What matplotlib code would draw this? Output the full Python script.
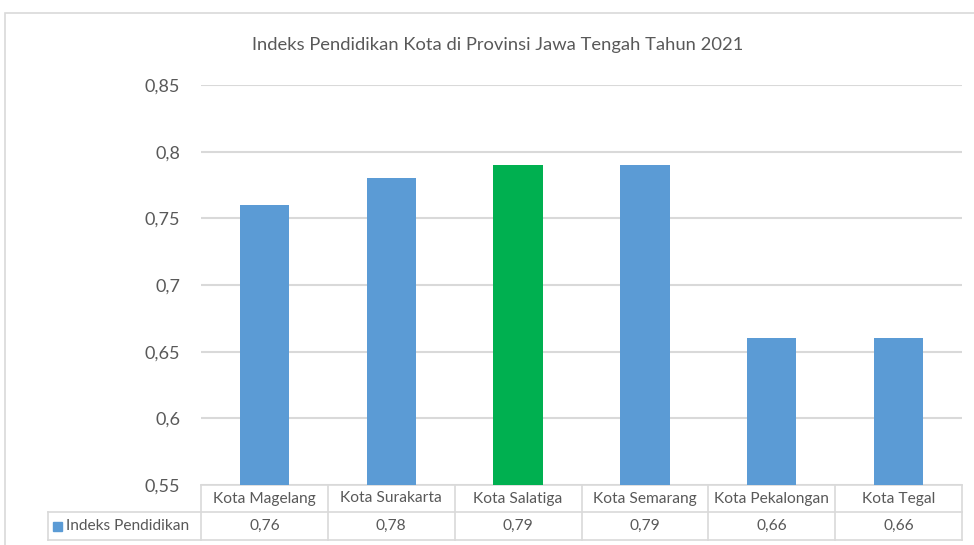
import matplotlib.pyplot as plt
import matplotlib.transforms as mtransforms
from matplotlib.patches import Rectangle

plt.rcParams['font.family'] = ['Lato', 'DejaVu Sans']

cities = ['Kota Magelang', 'Kota Surakarta', 'Kota Salatiga',
          'Kota Semarang', 'Kota Pekalongan', 'Kota Tegal']
values = [0.76, 0.78, 0.79, 0.79, 0.66, 0.66]
bar_colors = ['#5B9BD5', '#5B9BD5', '#00B050', '#5B9BD5', '#5B9BD5', '#5B9BD5']
series_name = 'Indeks Pendidikan'
title = 'Indeks Pendidikan Kota di Provinsi Jawa Tengah Tahun 2021'
yticks = [0.55, 0.6, 0.65, 0.7, 0.75, 0.8, 0.85]

W, H = 974, 545
text_col = '#595959'
line_col = '#d9d9d9'

fig = plt.figure(figsize=(W / 100, H / 100), dpi=100)
fig.patch.set_facecolor('white')

# outer chart border
fig.patches.append(Rectangle((5 / W, -0.1), 1.1, 1 - 13 / H + 0.1,
                             transform=fig.transFigure, fill=False,
                             edgecolor='#d9d9d9', lw=1.2))

left, right, top, bottom = 201, 962, 85, 485
ax = fig.add_axes([left / W, 1 - bottom / H, (right - left) / W, (bottom - top) / H])

x = range(len(cities))
ax.bar(x, [v - 0.55 for v in values], bottom=0.55, width=0.39, color=bar_colors, zorder=3)
ax.set_xlim(-0.5, len(cities) - 0.5)
ax.set_ylim(0.55, 0.85)
ax.set_yticks(yticks)
ax.set_yticklabels([f'{t:g}'.replace('.', ',') for t in yticks], color=text_col, fontsize=13)
ax.tick_params(axis='y', length=0, pad=15)
ax.tick_params(axis='x', length=0, labelbottom=False)
ax.grid(axis='y', color=line_col, lw=1.5, zorder=0)
for s in ax.spines.values():
    s.set_visible(False)

fig.text(0.5105, 1 - 45 / H, title, ha='center', va='center', color=text_col, fontsize=13.2)

# data table below the axis
tr = mtransforms.blended_transform_factory(ax.transData, ax.transAxes)
px = (right - left) / len(cities)
ph = bottom - top
row1 = -(512 - bottom) / ph
row2 = -(540 - bottom) / ph
x_leg = -0.5 - (left - 48) / px
kw = dict(color=line_col, lw=1.2, transform=tr, clip_on=False, zorder=1)

ax.plot([-0.5, len(cities) - 0.5], [0, 0], **kw)
ax.plot([x_leg, len(cities) - 0.5], [row1, row1], **kw)
ax.plot([x_leg, len(cities) - 0.5], [row2, row2], **kw)
ax.plot([x_leg, x_leg], [row1, row2], **kw)
for i in range(len(cities) + 1):
    ax.plot([i - 0.5, i - 0.5], [0, row2], **kw)

for i, (c, v) in enumerate(zip(cities, values)):
    ax.text(i, row1 / 2, c, transform=tr, ha='center', va='center',
            color=text_col, fontsize=11.2)
    ax.text(i, (row1 + row2) / 2, f'{v:.2f}'.replace('.', ','), transform=tr,
            ha='center', va='center', color=text_col, fontsize=11.2)

ax.add_patch(Rectangle((x_leg + 5 / px, (row1 + row2) / 2 - 4.5 / ph), 9 / px, 9 / ph,
                       transform=tr, color='#5B9BD5', clip_on=False))
ax.text(x_leg + 18 / px, (row1 + row2) / 2, series_name, transform=tr,
        ha='left', va='center', color=text_col, fontsize=11.2)

fig.savefig('out.png', dpi=100)
